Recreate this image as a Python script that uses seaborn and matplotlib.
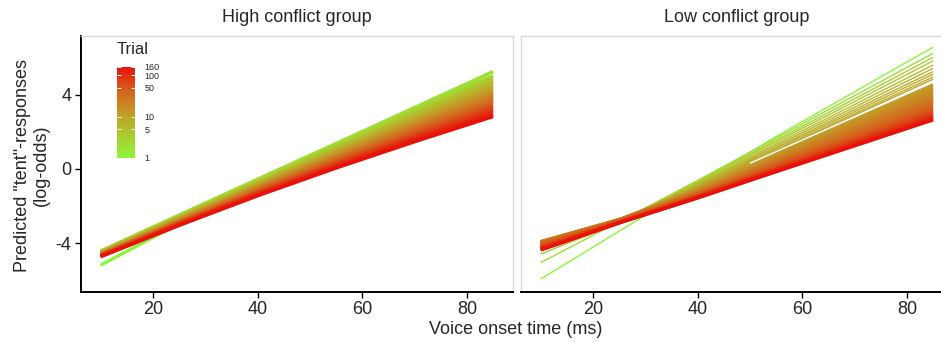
import numpy as np
import pandas as pd
import seaborn as sns
import matplotlib.pyplot as plt
from matplotlib.colors import LinearSegmentedColormap, LogNorm
from matplotlib.cm import ScalarMappable

# ---- data (log-odds at each VOT) ----
vot = [10, 25, 40, 55, 70, 85]

high_trials = [1, 2, 3, 4, 5, 6, 8, 10, 12, 15, 18, 22, 27, 33, 40, 50, 60, 75, 90, 110, 135, 160]
high_logodds = [
    [-5.20, -2.95, -1.02, 1.07, 3.17, 5.26],
    [-4.43, -2.49, -0.55, 1.38, 3.32, 5.26],
    [-4.46, -2.54, -0.63, 1.26, 3.15, 5.03],
    [-4.48, -2.58, -0.69, 1.17, 3.03, 4.88],
    [-4.50, -2.61, -0.74, 1.10, 2.93, 4.75],
    [-4.51, -2.63, -0.78, 1.05, 2.86, 4.65],
    [-4.53, -2.67, -0.83, 0.96, 2.74, 4.49],
    [-4.54, -2.70, -0.88, 0.89, 2.64, 4.37],
    [-4.56, -2.72, -0.92, 0.84, 2.56, 4.27],
    [-4.57, -2.75, -0.96, 0.77, 2.47, 4.14],
    [-4.59, -2.77, -1.00, 0.71, 2.39, 4.04],
    [-4.60, -2.80, -1.04, 0.65, 2.31, 3.93],
    [-4.61, -2.82, -1.09, 0.59, 2.22, 3.82],
    [-4.63, -2.85, -1.13, 0.53, 2.14, 3.71],
    [-4.64, -2.87, -1.17, 0.47, 2.06, 3.60],
    [-4.66, -2.90, -1.21, 0.40, 1.96, 3.47],
    [-4.67, -2.93, -1.25, 0.35, 1.88, 3.37],
    [-4.69, -2.95, -1.29, 0.28, 1.79, 3.25],
    [-4.70, -2.98, -1.33, 0.22, 1.71, 3.15],
    [-4.71, -3.00, -1.37, 0.16, 1.63, 3.04],
    [-4.73, -3.03, -1.42, 0.10, 1.54, 2.93],
    [-4.74, -3.05, -1.45, 0.05, 1.47, 2.83],
]

# low conflict: early trials fan out as separate thin lines
low_trials_early = [1, 2, 3, 4, 5, 6, 7, 8, 9, 10]
low_logodds_early = [
    [-5.95, -3.36, -0.80, 1.75, 4.17, 6.58],
    [-5.06, -2.85, -0.62, 1.67, 3.96, 6.25],
    [-4.60, -2.90, -0.68, 1.56, 3.79, 6.03],
    [-4.35, -2.82, -0.74, 1.47, 3.64, 5.84],
    [-4.25, -2.81, -0.80, 1.36, 3.48, 5.62],
    [-4.18, -2.80, -0.85, 1.27, 3.34, 5.44],
    [-4.12, -2.79, -0.89, 1.18, 3.21, 5.26],
    [-4.08, -2.78, -0.93, 1.11, 3.10, 5.12],
    [-4.05, -2.78, -0.97, 1.03, 2.99, 4.97],
    [-4.02, -2.77, -1.00, 0.97, 2.90, 4.85],
]
low_trials_late = [12, 14, 16, 18, 21, 24, 28, 32, 37, 43, 50, 58, 68, 80, 95, 112, 135, 160]
low_logodds_late = [
    [-4.00, -2.76, -1.08, 0.82, 2.68, 4.55],
    [-3.97, -2.75, -1.12, 0.74, 2.56, 4.40],
    [-3.95, -2.74, -1.15, 0.66, 2.45, 4.25],
    [-3.94, -2.74, -1.19, 0.60, 2.35, 4.12],
    [-3.93, -2.74, -1.23, 0.53, 2.25, 3.98],
    [-3.94, -2.75, -1.26, 0.46, 2.15, 3.85],
    [-3.96, -2.76, -1.29, 0.39, 2.05, 3.72],
    [-3.99, -2.78, -1.32, 0.33, 1.96, 3.60],
    [-4.03, -2.79, -1.35, 0.27, 1.87, 3.48],
    [-4.07, -2.81, -1.39, 0.21, 1.78, 3.36],
    [-4.12, -2.83, -1.41, 0.16, 1.70, 3.25],
    [-4.17, -2.85, -1.44, 0.10, 1.62, 3.14],
    [-4.22, -2.86, -1.47, 0.05, 1.54, 3.04],
    [-4.26, -2.88, -1.49, 0.00, 1.47, 2.95],
    [-4.30, -2.89, -1.52, -0.04, 1.41, 2.86],
    [-4.33, -2.90, -1.54, -0.08, 1.35, 2.78],
    [-4.36, -2.91, -1.55, -0.12, 1.29, 2.71],
    [-4.38, -2.92, -1.57, -0.15, 1.25, 2.65],
]

# white gap line visible in the low conflict panel
gap_vot = [50, 85]
gap_logodds = [0.31, 4.69]

cbar_ticks = [1, 5, 10, 50, 100, 160]


def to_long(trials, values):
    rows = []
    for t, ys in zip(trials, values):
        for x, y in zip(vot, ys):
            rows.append({"trial": t, "vot": x, "logodds": y})
    return pd.DataFrame(rows)


sns.set_style("white")
plt.rcParams["font.family"] = ["Liberation Sans", "DejaVu Sans"]
plt.rcParams["axes.unicode_minus"] = False

cmap = LinearSegmentedColormap.from_list(
    "trial", ["#8CF63C", "#ADCB2E", "#C49A28", "#D5601C", "#E8120A"])
norm = LogNorm(vmin=1, vmax=160)

fig = plt.figure(figsize=(9.41, 3.42), dpi=100)
W, H = 941, 342
ax_w = 431.7 / W
ax_h = 255.8 / H
ax_b = (H - 291.5) / H
ax1 = fig.add_axes([81 / W, ax_b, ax_w, ax_h])
ax2 = fig.add_axes([521 / W, ax_b, ax_w, ax_h])

line_kw = dict(x="vot", y="logodds", hue="trial", palette=cmap, hue_norm=norm,
               estimator=None, legend=False, solid_capstyle="butt")

sns.lineplot(data=to_long(high_trials, high_logodds), ax=ax1, linewidth=2.4, **line_kw)
sns.lineplot(data=to_long(low_trials_early, low_logodds_early), ax=ax2, linewidth=1.0, **line_kw)
sns.lineplot(data=to_long(low_trials_late, low_logodds_late), ax=ax2, linewidth=2.4, **line_kw)
ax2.plot(gap_vot, gap_logodds, color="white", linewidth=1.0, solid_capstyle="butt")

for ax, title in [(ax1, "High conflict group"), (ax2, "Low conflict group")]:
    ax.set_xlim(6.25, 88.75)
    ax.set_ylim(-6.62, 7.2)
    ax.set_xticks([20, 40, 60, 80])
    ax.set_yticks([-4, 0, 4])
    ax.set_xlabel("")
    ax.set_ylabel("")
    ax.set_title(title, fontsize=13, pad=10)
    ax.tick_params(axis="x", labelsize=13, length=4, width=1, color="black", pad=3, bottom=True)
    for s in ["top", "right", "left"]:
        ax.spines[s].set_color("#d9d9d9")
        ax.spines[s].set_linewidth(1.0)
    ax.spines["bottom"].set_color("black")
    ax.spines["bottom"].set_linewidth(1.4)

ax1.spines["left"].set_color("black")
ax1.spines["left"].set_linewidth(1.4)
ax1.tick_params(axis="y", labelsize=13, length=4, width=1, color="black", pad=3, left=True)
ax2.tick_params(axis="y", left=False, labelleft=False)

fig.text(516 / W, 1 - 330 / H, "Voice onset time (ms)", ha="center", va="center", fontsize=13)
fig.text(32 / W, 1 - 165 / H, 'Predicted "tent"-responses\n(log-odds)', ha="center",
         va="center", rotation=90, fontsize=13, linespacing=1.15)

# colour bar legend inside the left panel
cax = ax1.inset_axes([0.0834, 0.522, 0.0417, 0.356])
cb = fig.colorbar(ScalarMappable(norm=norm, cmap=cmap), cax=cax, ticks=cbar_ticks)
cb.outline.set_visible(False)
cb.ax.minorticks_off()
cb.ax.set_yticklabels([str(t) for t in cbar_ticks])
cb.ax.tick_params(length=0, labelsize=6.5, pad=7)
cb.ax.hlines(cbar_ticks, 0, 0.2, colors="white", linewidth=0.7)
cb.ax.hlines(cbar_ticks, 0.8, 1, colors="white", linewidth=0.7)
fig.text(117 / W, 1 - 49 / H, "Trial", ha="left", va="center", fontsize=12)

plt.savefig("out.png", dpi=100)
